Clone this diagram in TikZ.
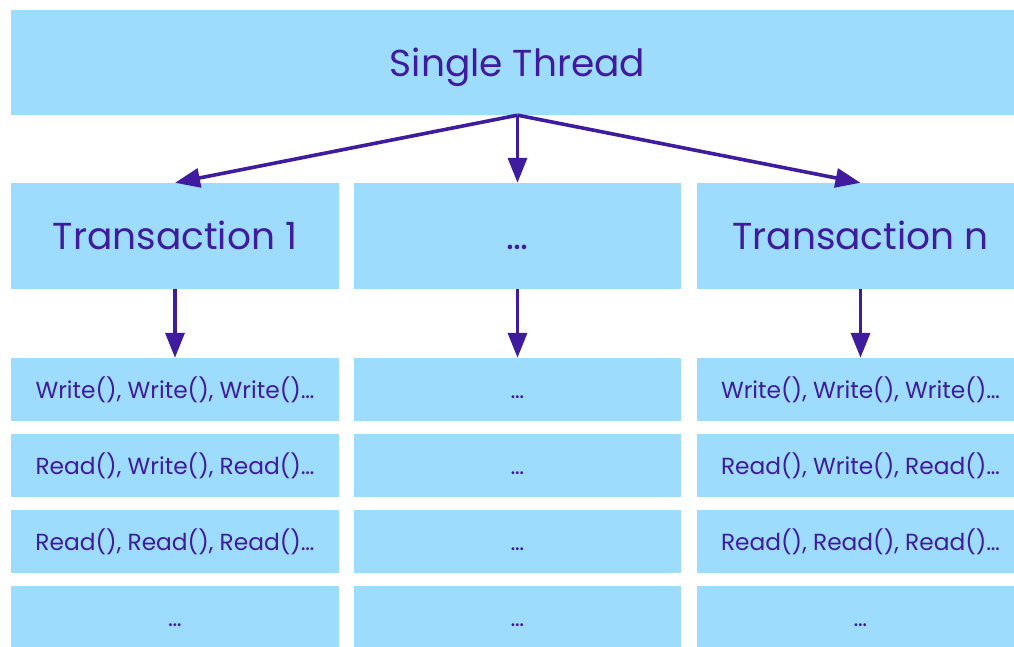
\documentclass[tikz,border=0pt]{standalone}
\usepackage{fontspec}
\setmainfont{Poppins}
\usetikzlibrary{arrows.meta}
\definecolor{boxblue}{HTML}{9EDCFE}
\definecolor{ink}{HTML}{3F1C9E}
% place a label so that its baseline sits a fixed distance below the box centre
\newcommand\bigtext[1]{\smash{\raisebox{-14pt}{#1}}}
\newcommand\optext[1]{\smash{\raisebox{-9.5pt}{#1}}}
\tikzset{
  x=1pt, y=1pt,
  card/.style={fill=boxblue, draw=none, inner sep=0pt, text=ink, align=center},
  bigcard/.style={card, minimum height=106pt, font=\fontsize{37.5}{42}\selectfont},
  opcard/.style={card, minimum height=63pt, font=\fontsize{23.3}{28}\selectfont},
  flow/.style={draw=ink, line width=3.6pt, -{Triangle[length=25pt,width=19pt]}}
}
\begin{document}
\begin{tikzpicture}
\useasboundingbox (0,0) rectangle (1014,647);
\clip (0,0) rectangle (1014,647);
% thread
\node[bigcard, minimum width=1013pt, minimum height=105pt] (thread) at (517.5,584.5) {\bigtext{Single Thread}};
% transactions
\node[bigcard, minimum width=328pt] (t1) at (175,411) {\bigtext{Transaction 1}};
\node[bigcard, minimum width=327pt] (tm) at (517.5,411) {\bigtext{…}};
\node[bigcard, minimum width=327pt] (tn) at (860.5,411) {\bigtext{Transaction n}};
% operations, column 1
\node[opcard, minimum width=328pt] (a1) at (175,257.5) {\optext{Write(), Write(), Write()…}};
\node[opcard, minimum width=328pt] (a2) at (175,181.5) {\optext{Read(), Write(), Read()…}};
\node[opcard, minimum width=328pt] (a3) at (175,105.5) {\optext{Read(), Read(), Read()…}};
\node[opcard, minimum width=328pt] (a4) at (175,29.5) {\optext{…}};
% operations, column 2
\node[opcard, minimum width=327pt] (b1) at (517.5,257.5) {\optext{…}};
\node[opcard, minimum width=327pt] (b2) at (517.5,181.5) {\optext{…}};
\node[opcard, minimum width=327pt] (b3) at (517.5,105.5) {\optext{…}};
\node[opcard, minimum width=327pt] (b4) at (517.5,29.5) {\optext{…}};
% operations, column 3
\node[opcard, minimum width=327pt] (c1) at (860.5,257.5) {\optext{Write(), Write(), Write()…}};
\node[opcard, minimum width=327pt] (c2) at (860.5,181.5) {\optext{Read(), Write(), Read()…}};
\node[opcard, minimum width=327pt] (c3) at (860.5,105.5) {\optext{Read(), Read(), Read()…}};
\node[opcard, minimum width=327pt] (c4) at (860.5,29.5) {\optext{…}};
% connectors
\coordinate (src) at (thread.south);
\draw[flow] (src) -- (t1.north);
\draw[flow] (src) -- (tm.north);
\draw[flow] (src) -- (tn.north);
\draw[flow] (t1.south) -- (a1.north);
\draw[flow] (tm.south) -- (b1.north);
\draw[flow] (tn.south) -- (c1.north);
\end{tikzpicture}
\end{document}
